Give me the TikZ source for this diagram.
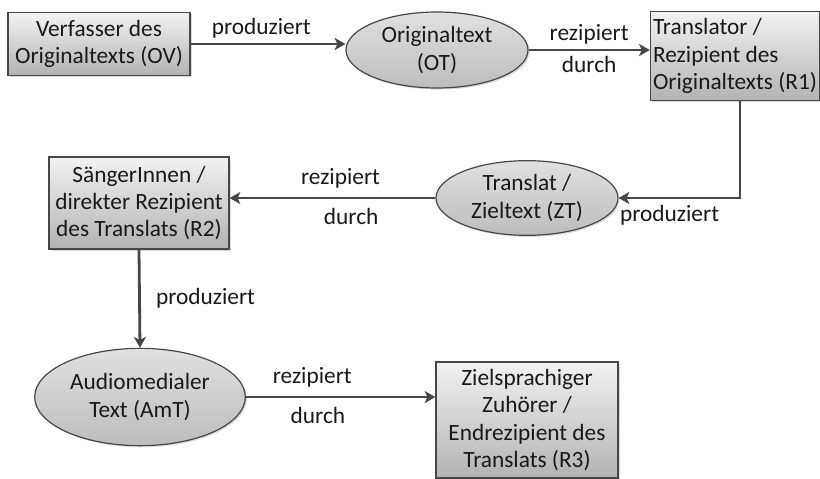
\documentclass[tikz,border=0pt]{standalone}
\usepackage{fontspec}
\setmainfont{Carlito}
\usetikzlibrary{arrows.meta,shapes.geometric,shadows}

\def\linec{black!72}
\def\txtc{black!90}

\tikzset{
  shad/.style={drop shadow={opacity=.3,shadow xshift=1.2pt,shadow yshift=-1.2pt}},
  box/.style={draw=\linec, line width=.9pt, top color=black!5, bottom color=black!30,
    align=center, inner sep=2pt, shad},
  oval/.style={ellipse, draw=\linec, line width=.9pt, top color=black!12, bottom color=black!26,
    align=center, inner sep=0pt, shad},
  conn/.style={draw=\linec, line width=2.1pt, -{Stealth[length=8pt,width=9pt,inset=2pt]}},
}

\begin{document}
\begin{tikzpicture}[x=.75pt, y=-.75pt, font=\fontsize{17.5}{20.5}\selectfont, text=\txtc]
\useasboundingbox (0,0) rectangle (820,478);

% top row
\node[box, minimum width=136.5pt, minimum height=47pt] (OV) at (99,44) {Verfasser des\\Originaltexts (OV)};
\node[oval, minimum width=136.5pt, minimum height=57pt] (OT) at (437,50) {Originaltext\\(OT)};
\node[box, minimum width=124.5pt, minimum height=67pt, align=left] (R1) at (735,56) {Translator /\\Rezipient des\\Originaltexts (R1)};

% middle row
\node[oval, minimum width=136.5pt, minimum height=56pt] (ZT) at (527,198) {Translat /\\Zieltext (ZT)};
\node[box, minimum width=135pt, minimum height=69pt] (R2) at (139,203) {SängerInnen /\\direkter Rezipient\\des Translats (R2)};

% bottom row
\node[oval, minimum width=158pt, minimum height=73pt] (AmT) at (140,397) {Audiomedialer\\Text (AmT)};
\node[box, minimum width=136.5pt, minimum height=87pt] (R3) at (527,420) {Zielsprachiger\\Zuhörer /\\Endrezipient des\\Translats (R3)};

% connectors
\draw[conn] (OV.east) -- node[above, xshift=-5pt] {produziert} (OT.west |- OV.east);
\draw[conn] (OT.east) -- node[above] {rezipiert} node[below] {durch} (R1.west |- OT.east);
\draw[conn] (R1.south -| 740,0) |- node[pos=.79, below=1pt] {produziert} (ZT.east);
\draw[conn] (ZT.west) -- node[above=3pt, xshift=6pt] {rezipiert} node[below=3pt, xshift=14pt] {durch} (ZT.west -| R2.east);
\draw[conn] (R2.south) -- node[right=8pt] {produziert} (AmT.north);
\draw[conn] (AmT.east) -- node[pos=.35, above=3pt] {rezipiert} node[pos=.38, below=3pt] {durch} (AmT.east -| R3.west);
\end{tikzpicture}
\end{document}
